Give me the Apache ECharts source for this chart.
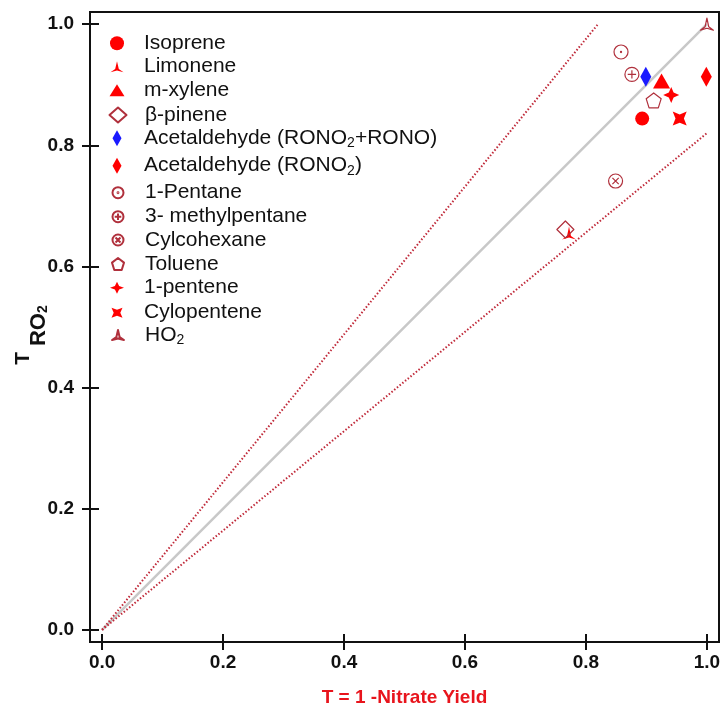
<!DOCTYPE html>
<html>
<head>
<meta charset="utf-8">
<script src="https://cdn.jsdelivr.net/npm/echarts@6/dist/echarts.min.js"></script>
<style>html,body{margin:0;padding:0;background:#fff}#c{width:724px;height:711px}</style>
</head>
<body>
<div id="c"></div>
<script>
// ---- data ----
var seriesNames = ['Isoprene','Limonene','m-xylene','β-pinene','Acetaldehyde (RONO2+RONO)','Acetaldehyde (RONO2)','1-Pentane','3- methylpentane','Cylcohexane','Toluene','1-pentene','Cylopentene','HO2'];
var xValues = [0.893, 0.772, 0.925, 0.766, 0.899, 0.999, 0.858, 0.876, 0.849, 0.912, 0.941, 0.955, 1.000];
var yValues = [0.844, 0.655, 0.906, 0.661, 0.913, 0.913, 0.954, 0.917, 0.741, 0.874, 0.883, 0.844, 1.000];
var tickValues = [0, 0.2, 0.4, 0.6, 0.8, 1.0];
var oneToOneLine = [[0, 0], [1, 1]];
var upperLine = [[0, 0], [0.82, 1.0]];
var lowerLine = [[0, 0], [1.0, 0.82]];

// ---- styles / layout ----
var RED = '#ff0000', DARK = '#b0303c', BLUE = '#1a1aff', CLEAR = 'rgba(255,255,255,0)';
var circ = 'M10,0 A10,10 0 1,1 -10,0 A10,10 0 1,1 10,0 Z ';
var triStar = 'path://M0,-10 L2.5,1.5 L9,6 L0,3.5 L-9,6 L-2.5,1.5 Z';
var styles = [
  {symbol:'circle', size:14, leg:[14,14], fill:RED},
  {symbol:triStar, size:[14,13], leg:[13,11], fill:RED},
  {symbol:'triangle', size:[17,15], leg:[15,12], fill:RED},
  {symbol:'diamond', size:17, leg:[17,15], fill:CLEAR, stroke:DARK},
  {symbol:'diamond', size:[11,20], leg:[9,16], fill:BLUE},
  {symbol:'diamond', size:[11,20], leg:[9,16], fill:RED},
  {symbol:'path://' + circ + 'M0.8,0 A0.8,0.8 0 1,1 -0.8,0 A0.8,0.8 0 1,1 0.8,0 Z', size:14, leg:[11,11], fill:CLEAR, stroke:DARK},
  {symbol:'path://' + circ + 'M-6,0 L6,0 M0,-6 L0,6', size:14, leg:[11,11], fill:CLEAR, stroke:DARK},
  {symbol:'path://' + circ + 'M-4.5,-4.5 L4.5,4.5 M4.5,-4.5 L-4.5,4.5', size:14, leg:[11,11], fill:CLEAR, stroke:DARK},
  {symbol:'path://M0,-10 L9.51,-3.09 L5.88,8.09 L-5.88,8.09 L-9.51,-3.09 Z', size:15, leg:[12,12], fill:CLEAR, stroke:DARK},
  {symbol:'path://M0,-10 L3,-3 L10,0 L3,3 L0,10 L-3,3 L-10,0 L-3,-3 Z', size:16, leg:[14,12], fill:RED},
  {symbol:'path://M-10,-10 L0,-6 L10,-10 L6,0 L10,10 L0,6 L-10,10 L-6,0 Z', size:14, leg:[11,10], fill:RED},
  {symbol:triStar, size:[13,12], leg:[12,10], fill:CLEAR, stroke:DARK}
];
var legendRowY = [43.3, 66.7, 90.3, 115, 138.3, 165.7, 192.7, 216.7, 240, 264, 287.7, 312.7, 335];
var legendIconX = 117, legendTextX = 144, legendRowH = 24;

var series = [
  {type:'line', data:oneToOneLine, symbol:'none', silent:true, z:1,
   lineStyle:{color:'#c8c8c8', width:2.5}},
  {type:'line', data:upperLine, symbol:'none', silent:true, z:1,
   lineStyle:{color:'#c02a3a', width:2, type:[1.5,2]}},
  {type:'line', data:lowerLine, symbol:'none', silent:true, z:1,
   lineStyle:{color:'#c02a3a', width:2, type:[1.5,2]}}
];
seriesNames.forEach(function(n, i){
  var s = styles[i];
  series.push({
    type:'scatter', name:n, z:3,
    data:[[xValues[i], yValues[i]]],
    symbol:s.symbol, symbolSize:s.size,
    itemStyle:{color:s.fill, borderColor:s.stroke || s.fill, borderWidth:s.stroke ? 1.2 : 0, borderJoin:'round', opacity:1}
  });
});

function legendFmt(name){
  return name.replace(/RONO2/g, 'RONO{sub|2}').replace(/^HO2$/, 'HO{sub|2}');
}
var legFont = "'Liberation Sans','Arial',sans-serif";
var legends = seriesNames.map(function(n, i){
  var w = styles[i].leg[0], h = styles[i].leg[1];
  return {
    orient:'vertical', padding:0, selectedMode:false,
    left:legendIconX - w / 2, top:legendRowY[i] - legendRowH / 2,
    itemWidth:w, itemHeight:h, symbolKeepAspect:false,
    data:[{name:n, itemStyle:{borderJoin:'round'}}],
    formatter:legendFmt,
    textStyle:{fontFamily:legFont, fontSize:21, lineHeight:legendRowH, color:'#111',
      padding:[0,0,0, legendTextX - (legendIconX + w / 2 + 5)],
      rich:{sub:{fontFamily:legFont, fontSize:14, lineHeight:14, color:'#111', padding:[10,0,0,0]}}}
  };
});

var chart = echarts.init(document.getElementById('c'), null, {renderer:'canvas'});
var numFont = "'Liberation Sans Narrow','Arial Narrow','Liberation Sans',sans-serif";
var labelFont = {fontFamily:numFont, fontWeight:'bold', fontSize:19, color:'#111'};
function fmt(v){ return v.toFixed(1); }
function mainAxis(extra, margin){
  return Object.assign({
    type:'value', min:-0.02, max:1.02,
    splitLine:{show:false},
    axisLine:{show:true, onZero:false, lineStyle:{color:'#111', width:2}},
    axisTick:{show:true, inside:false, length:8, customValues:tickValues, lineStyle:{color:'#111', width:2}},
    axisLabel:Object.assign({customValues:tickValues, margin:margin, formatter:fmt}, labelFont)
  }, extra);
}
function innerTickAxis(pos, len){
  return {type:'value', min:-0.02, max:1.02, position:pos, splitLine:{show:false},
    axisLine:{show:false, onZero:false}, axisLabel:{show:false},
    axisTick:{show:true, inside:true, length:len, customValues:tickValues, lineStyle:{color:'#111', width:2}}};
}
var titleFont = "'Liberation Sans','Arial',sans-serif";
chart.setOption({
  animation:false,
  backgroundColor:'#fff',
  grid:{left:90, right:5, top:12, bottom:69, show:true, borderColor:'#111', borderWidth:2,
        containLabel:false, outerBoundsMode:'none'},
  xAxis:[
    mainAxis({position:'bottom',
      name:'T = 1 -Nitrate Yield', nameLocation:'middle', nameGap:46,
      nameTextStyle:{fontFamily:numFont, fontWeight:'bold', fontSize:19, color:'#e8141c'}}, 11),
    innerTickAxis('bottom', 8)
  ],
  yAxis:[
    mainAxis({position:'left',
      name:'{t|T}{g| }{ro|RO}{s|2}', nameLocation:'middle', nameGap:40, nameRotate:90,
      nameMoveOverlap:false,
      nameTextStyle:{
        rich:{
          t:{fontFamily:titleFont, fontWeight:'bold', fontSize:21, color:'#111', verticalAlign:'top', lineHeight:21},
          g:{fontFamily:titleFont, fontWeight:'bold', fontSize:21, color:'#111', lineHeight:37},
          ro:{fontFamily:titleFont, fontWeight:'bold', fontSize:22, color:'#111', verticalAlign:'bottom', lineHeight:22},
          s:{fontFamily:titleFont, fontWeight:'bold', fontSize:14, color:'#111', verticalAlign:'bottom', lineHeight:14, padding:[0,16,0,0]}
        }
      }}, 16),
    innerTickAxis('left', 9)
  ],
  legend:legends,
  series:series
});
</script>
</body>
</html>
